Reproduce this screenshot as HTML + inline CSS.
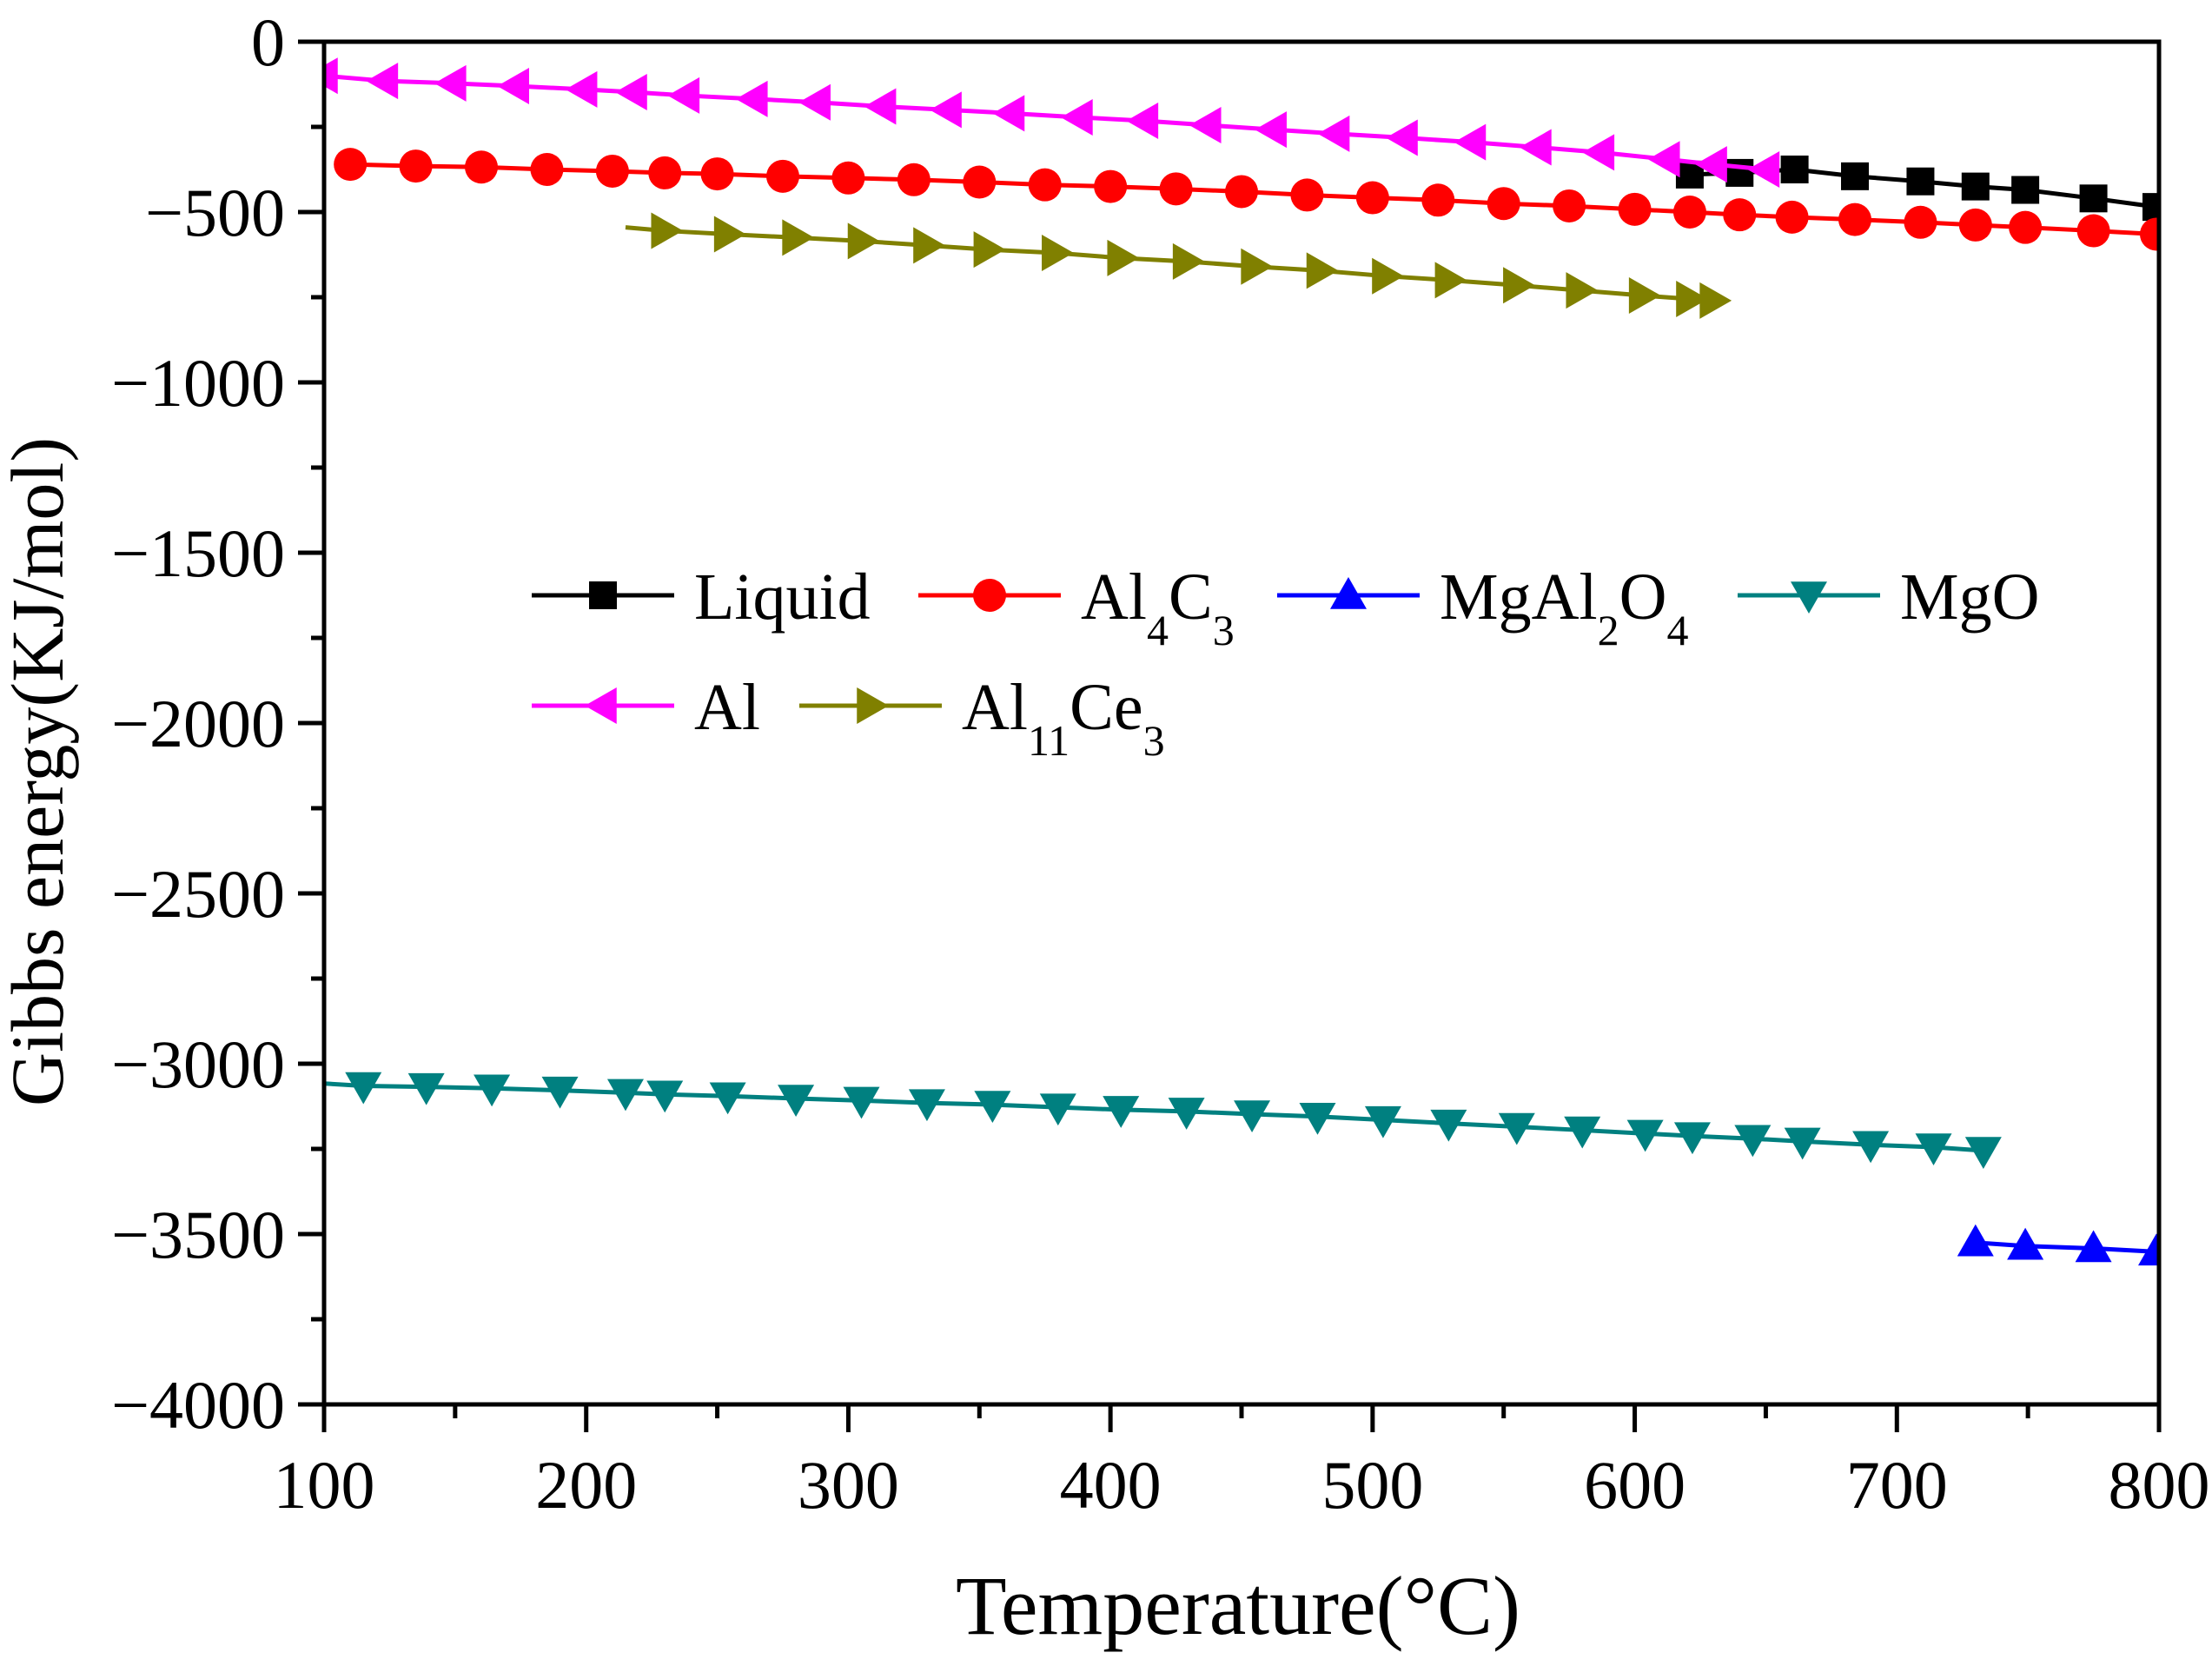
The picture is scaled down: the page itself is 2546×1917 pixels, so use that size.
<!DOCTYPE html>
<html><head><meta charset="utf-8"><style>
html,body{margin:0;padding:0;background:#fff}
svg{display:block;font-family:"Liberation Serif",serif}
</style></head><body>
<svg id="chart" width="2546" height="1917" viewBox="0 0 2546 1917" xmlns="http://www.w3.org/2000/svg">
<rect width="2546" height="1917" fill="#fff"/>
<g id="marks"></g>
<g id="axes"></g>
<text x="1425" y="1880" font-size="96" text-anchor="middle">Temperature(°C)</text>
<text transform="translate(72,888) rotate(-90)" font-size="86" text-anchor="middle">Gibbs energy(KJ/mol)</text>
<g id="legend"></g>
</svg>
<script>
const xTicks=[100,200,300,400,500,600,700,800];
const yTicks=[0,-500,-1000,-1500,-2000,-2500,-3000,-3500,-4000];
const liquidX=[621,640,661,684,709,730,749,775,799];
const liquidY=[-390,-385,-375,-395,-410,-425,-435,-460,-485];
const al4c3X=[110,135,160,185,210,230,250,275,300,325,350,375,400,425,450,475,500,525,550,575,600,621,640,660,684,709,730,749,775,799];
const al4c3Y=[-360,-365,-368,-375,-380,-385,-388,-395,-400,-405,-412,-420,-425,-432,-440,-450,-458,-465,-475,-482,-492,-500,-508,-515,-522,-530,-538,-545,-555,-565];
const alX=[100,123,149,173,199,218,238,264,288,313,338,362,388,413,437,462,486,512,538,563,587,612,630,650];
const alY=[-100,-115,-122,-130,-140,-148,-158,-168,-178,-190,-200,-210,-222,-232,-245,-258,-270,-282,-295,-310,-325,-345,-360,-375];
const alceStartX=[215];
const alceStartY=[-545];
const alceX=[230,254,280,305,330,353,379,404,429,455,480,505,529,555,579,603,621,630];
const alceY=[-555,-565,-575,-585,-598,-610,-620,-635,-645,-660,-672,-688,-700,-715,-730,-745,-755,-760];
const mgoStartX=[100];
const mgoStartY=[-3058];
const mgoX=[115,139,164,190,215,230,254,280,305,330,355,380,404,429,454,479,504,529,555,580,604,622,645,664,690,714,733];
const mgoY=[-3065,-3068,-3072,-3078,-3085,-3090,-3095,-3102,-3108,-3115,-3120,-3128,-3135,-3140,-3148,-3155,-3165,-3175,-3185,-3195,-3205,-3212,-3220,-3228,-3238,-3245,-3255];
const spinelX=[730,749,775,799];
const spinelY=[-3525,-3535,-3542,-3552];

const X0=373,X1=2485,Y0=48,Y1=1616;
const sx=v=>X0+(v-100)/700*(X1-X0);
const sy=v=>Y0+(0-v)/4000*(Y1-Y0);
const NS="http://www.w3.org/2000/svg";
function mk(tag,attrs,parent){const e=document.createElementNS(NS,tag);for(const k in attrs)e.setAttribute(k,attrs[k]);parent.appendChild(e);return e;}
const marks=document.getElementById('marks'),axes=document.getElementById('axes'),legend=document.getElementById('legend');

function marker(shape,cx,cy,color,parent){
  const s=21;let el;
  if(shape==='square') el=mk('rect',{x:cx-16,y:cy-16,width:32,height:32,fill:color},parent);
  else if(shape==='circle') el=mk('circle',{cx:cx,cy:cy,r:19,fill:color},parent);
  else{
    let p;
    if(shape==='up') p=[[cx,cy-s],[cx+s,cy+s*0.75],[cx-s,cy+s*0.75]];
    else if(shape==='down') p=[[cx,cy+s],[cx+s,cy-s*0.75],[cx-s,cy-s*0.75]];
    else if(shape==='left') p=[[cx-s,cy],[cx+s*0.75,cy-s],[cx+s*0.75,cy+s]];
    else p=[[cx+s,cy],[cx-s*0.75,cy-s],[cx-s*0.75,cy+s]];
    el=mk('polygon',{points:p.map(q=>q.join(',')).join(' '),fill:color},parent);
  }
  return el;
}
const series=[
 {name:'liquid',xs:liquidX,ys:liquidY,lx:[],ly:[],color:'#000000',shape:'square'},
 {name:'al4c3',xs:al4c3X,ys:al4c3Y,lx:[],ly:[],color:'#ff0000',shape:'circle'},
 {name:'mgal2o4',xs:spinelX,ys:spinelY,lx:[],ly:[],color:'#0000ff',shape:'up'},
 {name:'mgo',xs:mgoX,ys:mgoY,lx:mgoStartX,ly:mgoStartY,color:'#008080',shape:'down'},
 {name:'al',xs:alX,ys:alY,lx:[],ly:[],color:'#ff00ff',shape:'left'},
 {name:'al11ce3',xs:alceX,ys:alceY,lx:alceStartX,ly:alceStartY,color:'#808000',shape:'right'}
];
const clip=mk('clipPath',{id:'plotclip'},marks);
mk('rect',{x:X0,y:Y0,width:X1-X0,height:Y1-Y0},clip);
series.forEach(s=>{
  const g=mk('g',{'clip-path':'url(#plotclip)'},marks);
  
  
  const allX=s.lx.concat(s.xs),allY=s.ly.concat(s.ys);
  const pts=allX.map((x,i)=>sx(x)+','+sy(allY[i])).join(' ');
  const line=mk('polyline',{points:pts,fill:'none',stroke:s.color,'stroke-width':5},g);
  
  
  s.xs.forEach((x,i)=>{
    const m=marker(s.shape,sx(x),sy(s.ys[i]),s.color,g);
    
    
  });
});
const frame=mk('rect',{x:X0,y:Y0,width:X1-X0,height:Y1-Y0,fill:'none',stroke:'#000','stroke-width':5},axes);


for(let v=0;v>=-4000;v-=250){
  const major=v%500===0;
  const t=mk('line',{x1:X0,x2:X0-(major?30:15),y1:sy(v),y2:sy(v),stroke:'#000','stroke-width':5},axes);
  
  
}
yTicks.forEach(v=>{
  const t=mk('text',{x:X0-45,y:sy(v)+27,'font-size':78,'text-anchor':'end'},axes);
  t.textContent=v===0?'0':'\u2212'+Math.abs(v);
  
  
});
for(let v=100;v<=800;v+=50){
  const major=v%100===0;
  const t=mk('line',{x1:sx(v),x2:sx(v),y1:Y1,y2:Y1+(major?32:16),stroke:'#000','stroke-width':5},axes);
  
  
}
xTicks.forEach(v=>{
  const t=mk('text',{x:sx(v),y:1735,'font-size':78,'text-anchor':'middle'},axes);
  t.textContent=v;
  
  
});
const leg=[
 {s:0,x:612,y:685,label:['Liquid']},
 {s:1,x:1057,y:685,label:['Al','4','C','3']},
 {s:2,x:1470,y:685,label:['MgAl','2','O','4']},
 {s:3,x:2000,y:685,label:['MgO']},
 {s:4,x:612,y:812,label:['Al']},
 {s:5,x:920,y:812,label:['Al','11','Ce','3']}
];
leg.forEach(l=>{
  const s=series[l.s];
  const g=mk('g',{},legend);
  
  
  mk('line',{x1:l.x,x2:l.x+164,y1:l.y,y2:l.y,stroke:s.color,'stroke-width':5},g);
  marker(s.shape,l.x+82,l.y,s.color,g);
  const t=mk('text',{x:l.x+187,y:l.y+27,'font-size':76},g);
  l.label.forEach((p,i)=>{
    const ts=mk('tspan',{},t);
    if(i%2===1){ts.setAttribute('font-size','50');ts.setAttribute('dy','30');}
    else if(i>0){ts.setAttribute('dy','-30');}
    ts.textContent=p;
  });
});
</script>
</body></html>
